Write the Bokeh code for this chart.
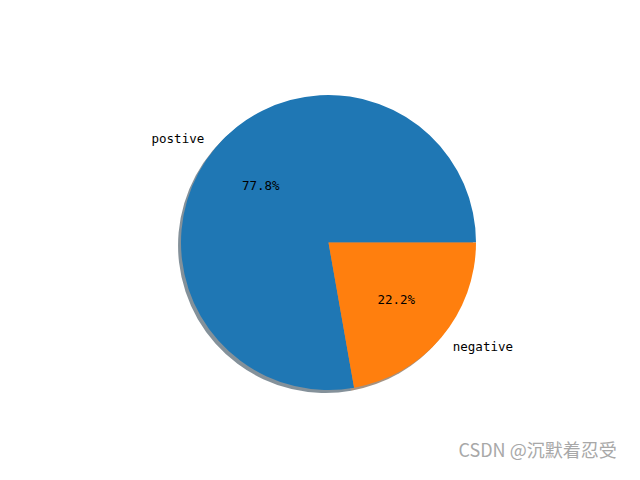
import numpy as np
from bokeh.plotting import figure
from bokeh.models import ColumnDataSource, Label
from bokeh.core.properties import value
from bokeh.embed import file_html
from bokeh.resources import INLINE

# data
labels = ["postive", "negative"]
counts = [7, 2]
colors = ["#1f77b4", "#ff7f0e"]

frac = np.array(counts, dtype=float) / sum(counts)
ends = np.cumsum(frac) * 2 * np.pi
starts = ends - frac * 2 * np.pi
mids = (starts + ends) / 2

# shadow colours, like matplotlib: face colour * 0.3 at alpha 0.5
def darken(hexcol):
    r, g, b = (int(hexcol[i:i + 2], 16) for i in (1, 3, 5))
    return "#%02x%02x%02x" % (int(r * 0.3), int(g * 0.3), int(b * 0.3))

src = ColumnDataSource(dict(
    start=starts, end=ends, color=colors,
    shadow=[darken(c) for c in colors],
))

lab_src = ColumnDataSource(dict(
    x=1.1 * np.cos(mids), y=1.1 * np.sin(mids), text=labels,
    align=["right" if np.cos(m) < 0 else "left" for m in mids],
))
pct_src = ColumnDataSource(dict(
    x=0.6 * np.cos(mids), y=0.6 * np.sin(mids),
    text=["%.1f%%" % (f * 100) for f in frac],
))

scale = 147.5  # pixels per unit radius
W, H = 624, 464
cx, cy = 328, 242
p = figure(width=W, height=H, output_backend="svg", toolbar_location=None,
           x_range=(-cx / scale, (W - cx) / scale),
           y_range=(-(H - cy) / scale, cy / scale),
           min_border=0)
p.axis.visible = False
p.grid.visible = False
p.outline_line_color = None

p.wedge(x=-0.02, y=-0.02, radius=1, start_angle="start", end_angle="end",
        fill_color="shadow", fill_alpha=0.5, line_color=None, source=src)
p.wedge(x=0, y=0, radius=1, start_angle="start", end_angle="end",
        fill_color="color", line_color=None, source=src)

p.text(x="x", y="y", text="text", text_align="align", text_baseline="middle",
       text_font=value("DejaVu Sans Mono"), text_font_size="12.5px",
       text_color="black", source=lab_src)
p.text(x="x", y="y", text="text", text_align="center", text_baseline="middle",
       text_font=value("DejaVu Sans Mono"), text_font_size="12.5px",
       text_color="black", source=pct_src)

p.add_layout(Label(x=458, y=3, x_units="screen", y_units="screen",
                   text="CSDN @沉默着忍受", text_font="Noto Sans CJK SC",
                   text_font_size="18px", text_color="#a8a8a8"))

open("out.html", "w").write(file_html(p, INLINE))
